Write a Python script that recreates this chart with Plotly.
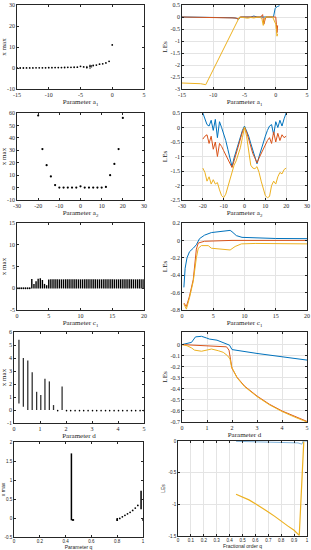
import plotly.graph_objects as go

W, H = 311, 550

# ---------------- Panel 1: x max vs a1 ----------------
a1_x = [-15, -14.5, -14, -13.5, -13, -12.5, -12, -11.5, -11, -10.5, -10, -9.5, -9, -8.5, -8,
        -7.5, -7, -6.5, -6, -5.5, -5, -4.5, -4, -3.5, -3, -2.5, -2, -1.5, -1, -0.5, 0]
a1_xmax = [0.0, 0.0, 0.0, 0.05, 0.05, 0.05, 0.1, 0.1, 0.1, 0.1, 0.15, 0.15, 0.2, 0.2, 0.2,
           0.25, 0.3, 0.3, 0.35, 0.4, 0.8, 0.5, 0.3, 0.9, 1.2, 1.4, 1.8, 2.0, 2.4, 3.2, 11]
a1_bar_x = [-4.0, -3.5, -3.25]
a1_bar_lo = [-0.3, -0.5, 0.2]
a1_bar_hi = [1.0, 1.6, 1.4]

# ---------------- Panel 2: LEs vs a1 ----------------
a1_blue_x = [-15, -10, -7, -6.3, -6, -5.6, -4, -3.5, -3, -0.5, -0.35, -0.1, 0, 0.3, 0.6]
a1_blue_y = [0.0, -0.01, -0.03, -0.05, -0.1, 0.0, 0.0, 0.04, 0.0, 0.0, 0.02, 0.35, 0.39, 0.44, 0.47]
a1_red_x = [-15, -6.5, -6, -5.7, -3, -2.4, -2.1, -1.9, -1.6, 0, 0.1, 0.2, 0.3]
a1_red_y = [0.0, -0.04, -0.08, 0.0, 0.0, 0.0, 0.1, -0.3, 0.0, 0.0, -0.3, -0.65, -0.35]
a1_yel_x = [-15, -12, -11.2, -5.8, -5, -4.5, -4, -3.5, -3, -2.5, -2.2, -2, -1.8, -1.5, -1, -0.5, 0, 0.1, 0.2, 0.3]
a1_yel_y = [-2.75, -2.78, -2.82, 0.0, -0.03, -0.05, -0.02, -0.04, -0.01, 0.0, -0.1, -0.35, -0.05, 0.0, 0.0, 0.0, -0.3, -0.6, -0.8, -0.7]

# ---------------- Panel 3: x max vs a2 ----------------
a2_x = [-20, -18, -16, -14, -12, -10, -8, -6, -4, -2, 0, 2, 4, 6, 8, 10, 12, 14, 16, 18, 20]
a2_xmax = [58, 31, 18, 9, 2, 0, 0, 0, 0, 0, 1, 0, 0, 0, 0, 0, 0.5, 10, 19, 31, 56]

# ---------------- Panel 4: LEs vs a2 ----------------
a2_le_x = [-20, -19, -18, -17, -16, -15, -14, -13, -12, -11, -10, -9, -8, -7, -6, -5, -4, -3, -2, -1, 0,
           1, 2, 3, 4, 5, 6, 7, 8, 9, 10, 11, 12, 13, 14, 15, 16, 17, 18, 19, 20]
a2_blue = [0.5, 0.3, 0.1, 0.05, 0.25, -0.1, 0.28, -0.35, 0.2, 0.0, -0.2, -0.45, -0.75, -1.05, -1.35, -1.05,
           -0.8, -0.55, -0.3, -0.1, 0.05, -0.1, -0.3, -0.55, -0.8, -1.0, -1.25, -1.0, -0.75, -0.5, -0.3,
           -0.1, 0.05, 0.1, -0.25, 0.2, 0.0, 0.25, 0.05, 0.3, 0.5]
a2_red = [-0.4, -0.3, -0.25, -0.55, -0.3, -0.75, -0.5, -1.0, -0.55, -0.65, -0.8, -0.95, -1.1, -1.25, -1.38,
          -1.15, -0.9, -0.65, -0.4, -0.15, 0.0, -0.15, -0.4, -0.65, -0.9, -1.05, -1.22, -1.05, -0.9, -0.7,
          -0.55, -0.45, -0.35, -0.55, -0.15, -0.5, -0.2, -0.45, -0.25, -0.35, -0.3]
a2_yel = [-1.4, -1.55, -1.85, -1.7, -1.95, -1.8, -1.95, -1.9, -2.15, -2.35, -2.42, -2.3, -2.05, -1.8, -1.5,
          -1.3, -1.15, -0.95, -0.7, -0.35, 0.02, -0.3, -0.85, -1.3, -1.4, -1.42, -1.35, -1.55, -1.85, -2.15,
          -2.35, -2.42, -2.38, -2.0, -1.85, -1.95, -1.7, -1.55, -1.6, -1.45, -1.4]

# ---------------- Panel 5: x max vs c1 ----------------
c1_dot_x = [0.0, 0.33, 0.67, 1.0, 1.33, 1.67, 2.0]
c1_dot_y = [0, 0, 0, 0, 0, 0, 0]
c1_bar_x = [2.33, 2.67, 3.0, 3.33, 3.67, 4.0, 4.33, 4.67, 5.0, 5.33, 5.67, 6.0, 6.33, 6.67, 7.0, 7.33,
            7.67, 8.0, 8.33, 8.67, 9.0, 9.33, 9.67, 10.0, 10.33, 10.67, 11.0, 11.33, 11.67, 12.0, 12.33,
            12.67, 13.0, 13.33, 13.67, 14.0, 14.33, 14.67, 15.0, 15.33, 15.67, 16.0, 16.33, 16.67, 17.0,
            17.33, 17.67, 18.0, 18.33, 18.67, 19.0, 19.33, 19.67, 20.0]
c1_bar_hi = [2.1, 1.0, 1.6, 2.2, 2.3, 1.9, 1.0, 0.7, 2.0, 2.05, 2.05, 2.05, 2.05, 2.05, 2.05, 2.05,
             2.05, 2.05, 2.05, 2.05, 2.05, 2.05, 2.05, 2.05, 2.05, 2.05, 2.05, 2.05, 2.05, 2.05, 2.05,
             2.05, 2.05, 2.05, 2.05, 2.05, 2.05, 2.05, 2.05, 2.05, 2.05, 2.05, 2.05, 2.05, 2.05,
             2.05, 2.05, 2.05, 2.05, 2.05, 2.05, 2.05, 2.05, 2.05]
c1_bar_lo = -0.05

# ---------------- Panel 6: LEs vs c1 ----------------
c1_blue_x = [0.3, 0.5, 0.8, 1.2, 1.8, 2.3, 2.8, 3.6, 4.7, 6.3, 7.7, 8.0, 8.7, 9.6, 11.7, 15, 20]
c1_blue_y = [-0.54, -0.32, -0.2, -0.13, -0.09, -0.05, 0.02, 0.06, 0.09, 0.1, 0.115, 0.1, 0.055, 0.035, 0.027, 0.022, 0.02]
c1_red_x = [0.3, 0.7, 1.2, 1.8, 2.3, 2.6, 3.6, 5, 8, 12, 20]
c1_red_y = [-0.72, -0.76, -0.64, -0.45, -0.1, -0.03, -0.01, -0.005, 0.0, 0.0, 0.0]
c1_yel_x = [0.3, 0.7, 1.2, 1.8, 2.3, 2.6, 3.1, 4.2, 4.7, 6.1, 7.7, 8.5, 9.5, 11.7, 20]
c1_yel_y = [-0.73, -0.79, -0.66, -0.47, -0.2, -0.09, -0.06, -0.06, -0.09, -0.1, -0.11, -0.07, -0.04, -0.035, -0.04]

# ---------------- Panel 7: x max vs d ----------------
d_bar_x = [0.19, 0.36, 0.53, 0.70, 0.87, 1.03, 1.19, 1.36, 1.52, 1.85]
d_bar_lo = [0.5, 0.25, 0.0, 0.0, 0.0, 0.0, 0.0, 0.0, 0.0, 0.0]
d_bar_hi = [5.4, 4.0, 3.8, 2.9, 1.4, 1.15, 2.4, 2.2, 0.38, 1.8]
d_dot_x = [1.68, 2.02, 2.18, 2.35, 2.52, 2.68, 2.85, 3.02, 3.18, 3.35, 3.52, 3.68, 3.85, 4.02, 4.18,
           4.35, 4.52, 4.68, 4.85, 5.0]
d_dot_y = [-0.05, -0.05, -0.05, -0.05, -0.05, -0.05, -0.05, -0.05, -0.05, -0.05, -0.05, -0.05, -0.05,
           -0.05, -0.05, -0.05, -0.05, -0.05, -0.05, -0.05]

# ---------------- Panel 8: LEs vs d ----------------
d_blue_x = [0, 0.38, 0.54, 0.78, 0.98, 1.1, 1.4, 1.65, 1.9, 2.0, 2.4, 3, 4, 5]
d_blue_y = [0, 0.02, 0.07, 0.075, 0.06, 0.05, 0.04, 0.02, -0.005, -0.045, -0.06, -0.08, -0.11, -0.14]
d_red_x = [0, 0.9, 1.5, 1.78, 1.88, 1.96, 2.0, 2.2, 2.5, 3, 3.5, 4, 4.5, 5]
d_red_y = [0, -0.01, -0.02, -0.02, -0.05, -0.16, -0.215, -0.295, -0.375, -0.465, -0.54, -0.6, -0.65, -0.695]
d_yel_x = [0, 0.2, 0.38, 0.5, 0.78, 0.98, 1.18, 1.45, 1.65, 1.82, 1.92, 1.98, 2.2, 2.5, 3, 3.5, 4, 4.5, 5]
d_yel_y = [0, -0.01, -0.03, -0.05, -0.06, -0.05, -0.04, -0.055, -0.07, -0.1, -0.13, -0.2, -0.3, -0.38,
           -0.47, -0.545, -0.605, -0.655, -0.7]

# ---------------- Panel 9: x max vs q ----------------
q_bar_x = [0.445, 0.80, 0.985]
q_bar_lo = [-0.06, -0.08, 0.23]
q_bar_hi = [1.7, 0.0, 0.72]
q_dot_x = [0.455, 0.46, 0.80, 0.82, 0.84, 0.86, 0.88, 0.90, 0.92, 0.94, 0.96, 1.0]
q_dot_y = [-0.05, -0.05, -0.05, -0.01, 0.03, 0.07, 0.11, 0.15, 0.2, 0.26, 0.33, -0.05]

# ---------------- Panel 10: LEs vs fractional order q ----------------
q_blue_x = [0.45, 0.6, 0.8, 0.93, 0.96, 0.97, 1.0]
q_blue_y = [-0.005, -0.01, -0.02, -0.03, -0.05, 0.0, 0.0]
q_yel_x = [0.45, 0.5, 0.55, 0.6, 0.65, 0.7, 0.75, 0.8, 0.85, 0.9, 0.94, 0.975]
q_yel_y = [-0.84, -0.88, -0.93, -0.99, -1.05, -1.12, -1.19, -1.27, -1.34, -1.41, -1.49, -0.01]

BLUE, RED, YEL = '#0072BD', '#D95319', '#EDB120'
INK = '#262626'

fig = go.Figure()


def ax_ids(i):
    return ('x' if i == 1 else f'x{i}'), ('y' if i == 1 else f'y{i}')


def add(i, **kw):
    xa, ya = ax_ids(i)
    fig.add_trace(go.Scatter(xaxis=xa, yaxis=ya, showlegend=False, hoverinfo='skip', **kw))


def segments(xs, lo, hi):
    X, Y = [], []
    if not isinstance(lo, list):
        lo = [lo] * len(xs)
    for x, l, h in zip(xs, lo, hi):
        X += [x, x, None]
        Y += [l, h, None]
    return X, Y


def dots(i, x, y, size=2.0):
    add(i, x=x, y=y, mode='markers', marker=dict(color='black', size=size, line=dict(width=0)))


def bars(i, xs, lo, hi, width=1.2, color='black'):
    X, Y = segments(xs, lo, hi)
    add(i, x=X, y=Y, mode='lines', line=dict(color=color, width=width))


def line(i, x, y, color, width=1.0):
    add(i, x=x, y=y, mode='lines', line=dict(color=color, width=width))


# traces
dots(1, a1_x, a1_xmax, size=1.8)
bars(1, a1_bar_x, a1_bar_lo, a1_bar_hi, width=0.8)
line(2, a1_blue_x, a1_blue_y, BLUE)
line(2, a1_red_x, a1_red_y, RED)
line(2, a1_yel_x, a1_yel_y, YEL)

dots(3, a2_x, a2_xmax, size=2.2)
line(4, a2_le_x, a2_blue, BLUE)
line(4, a2_le_x, a2_red, RED)
line(4, a2_le_x, a2_yel, YEL)

dots(5, c1_dot_x, c1_dot_y, size=1.8)
bars(5, c1_bar_x, c1_bar_lo, c1_bar_hi, width=1.4)
line(6, c1_blue_x, c1_blue_y, BLUE)
line(6, c1_red_x, c1_red_y, RED)
line(6, c1_yel_x, c1_yel_y, YEL)

bars(7, d_bar_x, d_bar_lo, d_bar_hi, width=1.3, color='#333333')
dots(7, d_dot_x, d_dot_y, size=1.6)
line(8, d_blue_x, d_blue_y, BLUE)
line(8, d_red_x, d_red_y, RED)
line(8, d_yel_x, d_yel_y, YEL)

bars(9, q_bar_x, q_bar_lo, q_bar_hi, width=1.5)
dots(9, q_dot_x, q_dot_y, size=1.8)
line(10, q_blue_x, q_blue_y, '#7FB2DA', width=1.0)
line(10, q_yel_x, q_yel_y, YEL, width=1.2)


def fmt(v):
    return f"{v:g}"


def axes(i, xpx, ypx, xr, yr, xt, yt, xtitle, ytitle, grid, small=False, xstand=2, ystand=2):
    if small:
        tf = dict(family='Liberation Sans, Arial, sans-serif', size=4.5, color=INK)
        lf = dict(family='Liberation Sans, Arial, sans-serif', size=5, color=INK)
    else:
        tf = dict(family='Liberation Serif, Times New Roman, serif', size=6, color=INK)
        lf = dict(family='Liberation Serif, Times New Roman, serif', size=7, color=INK)
    common = dict(showline=True, linecolor=INK, linewidth=0.6, mirror='ticks', ticks='inside',
                  ticklen=2.5, tickwidth=0.6, tickcolor=INK, zeroline=False, showgrid=grid,
                  gridcolor='#e4e4e4', gridwidth=0.6, tickfont=tf, automargin=False)
    xa, ya = ax_ids(i)
    xkey = 'xaxis' if i == 1 else f'xaxis{i}'
    ykey = 'yaxis' if i == 1 else f'yaxis{i}'
    x0, x1 = xpx
    t, b = ypx
    lay = {}
    lay[xkey] = dict(domain=[x0 / W, x1 / W], range=xr, tickvals=xt, ticktext=[fmt(v) for v in xt],
                     anchor=ya, title=dict(text=xtitle, font=lf, standoff=xstand), **common)
    lay[ykey] = dict(domain=[1 - b / H, 1 - t / H], range=yr, tickvals=yt, ticktext=[fmt(v) for v in yt],
                     anchor=xa, title=dict(text=ytitle, font=lf, standoff=ystand), **common)
    fig.update_layout(**lay)


LX = (17, 144)
RX = (182, 307)
axes(1, LX, (5, 89), [-15, 5], [-10, 30], [-15, -10, -5, 0, 5], [-10, 0, 10, 20, 30],
     'Parameter a<sub>1</sub>', 'x max', False)
axes(2, RX, (5, 89), [-15, 5], [-3, 0.5], [-15, -10, -5, 0, 5], [-3, -2.5, -2, -1.5, -1, -0.5, 0, 0.5],
     'Parameter a<sub>1</sub>', 'LEs', True)
axes(3, LX, (113, 200), [-30, 30], [-10, 60], [-30, -20, -10, 0, 10, 20, 30], [-10, 0, 10, 20, 30, 40, 50, 60],
     'Parameter a<sub>2</sub>', 'x max', False)
axes(4, RX, (113, 200), [-30, 30], [-2.5, 0.5], [-30, -20, -10, 0, 10, 20, 30], [-2.5, -2, -1.5, -1, -0.5, 0, 0.5],
     'Parameter a<sub>2</sub>', 'LEs', True)
axes(5, LX, (223, 310), [0, 20], [-5, 15], [0, 5, 10, 15, 20], [-5, 0, 5, 10, 15],
     'Parameter c<sub>1</sub>', 'x max', False)
axes(6, RX, (223, 310), [0, 20], [-0.8, 0.2], [0, 5, 10, 15, 20], [-0.8, -0.6, -0.4, -0.2, 0, 0.2],
     'Parameter c<sub>1</sub>', 'LEs', True)
axes(7, (14, 144), (332, 423), [0, 5], [-1, 6], [0, 1, 2, 3, 4, 5], [-1, 0, 1, 2, 3, 4, 5, 6],
     'Parameter d', 'x max', False)
axes(8, RX, (332, 422), [0, 5], [-0.7, 0.114], [0, 1, 2, 3, 4, 5],
     [-0.7, -0.6, -0.5, -0.4, -0.3, -0.2, -0.1, 0], 'Parameter d', 'LEs', True)
axes(9, (14, 143), (442, 537), [0, 1], [-0.5, 2], [0, 0.2, 0.4, 0.6, 0.8, 1], [-0.5, 0, 0.5, 1, 1.5, 2],
     'Parameter q', 'x max', False, small=True)
axes(10, (178, 307), (441, 536), [0, 1], [-1.5, 0], [0, 0.1, 0.2, 0.3, 0.4, 0.5, 0.6, 0.7, 0.8, 0.9, 1],
     [-1.5, -1, -0.5, 0], 'Fractional order q', 'LEs', True, small=True)

fig.update_layout(width=W, height=H, margin=dict(l=0, r=0, t=0, b=0),
                  paper_bgcolor='white', plot_bgcolor='white')

fig.write_html("out.html", config={'displayModeBar': False},
               post_script="document.body.style.margin='0';document.body.style.overflow='hidden';")
